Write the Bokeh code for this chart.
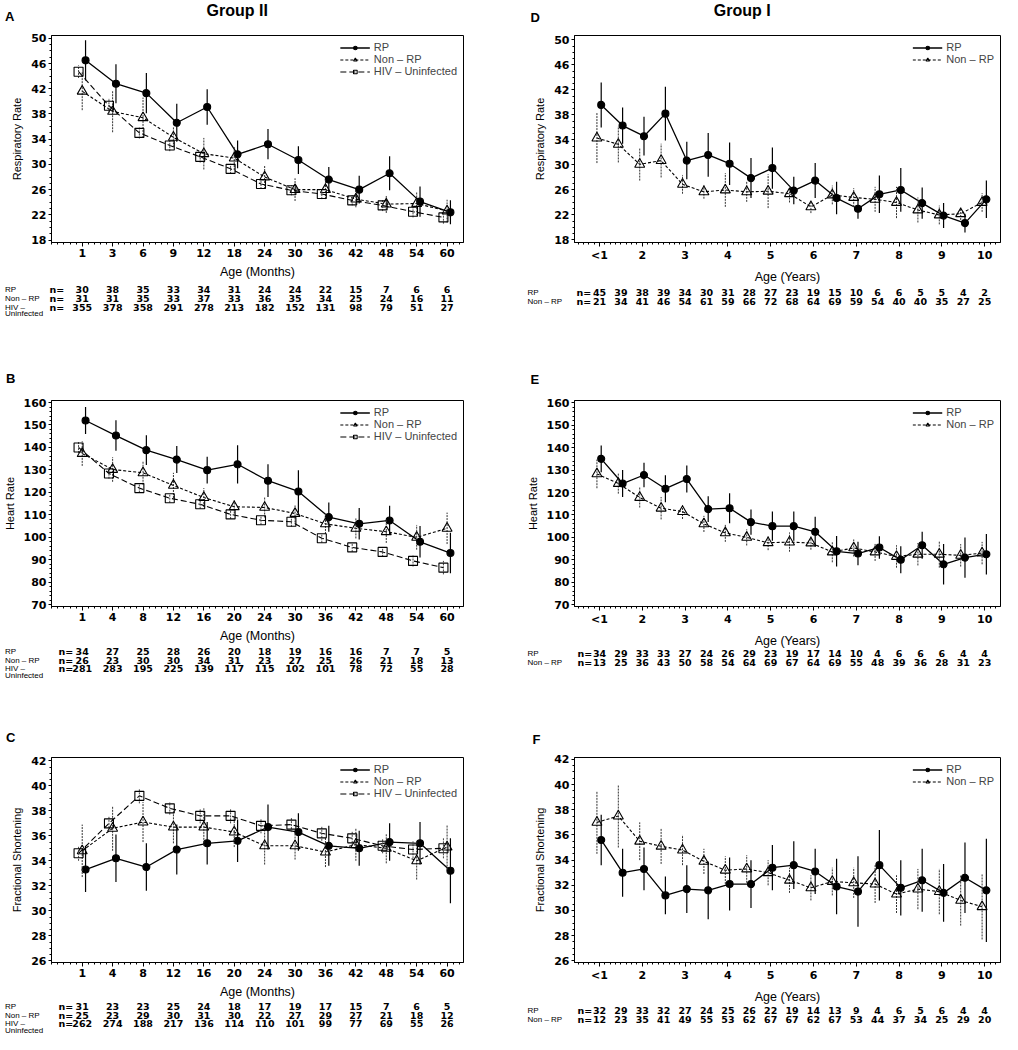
from bokeh.plotting import figure
from bokeh.models import Range1d, FixedTicker, Legend, LegendItem, ColumnDataSource
from bokeh.layouts import column, row
from bokeh.embed import file_html
from bokeh.resources import INLINE
from bokeh.core.properties import value

SANS = "Liberation Sans"
WIDE = "DejaVu Sans"

# ---------------- categories / tick labels ----------------
month_idx = [0, 1, 2, 3, 4, 5, 6, 7, 8, 9, 10, 11, 12]
months_A = ["1", "3", "6", "9", "12", "18", "24", "30", "36", "42", "48", "54", "60"]
months_BC = ["1", "4", "8", "12", "16", "20", "24", "30", "36", "42", "48", "54", "60"]
years = [1, 1.5, 2, 2.5, 3, 3.5, 4, 4.5, 5, 5.5, 6, 6.5, 7, 7.5, 8, 8.5, 9, 9.5, 10]
year_ticks = [1, 2, 3, 4, 5, 6, 7, 8, 9, 10]
year_labels = ["<1", "2", "3", "4", "5", "6", "7", "8", "9", "10"]

# ---------------- Group II : A respiratory rate ----------------
rp_rr_A = [46.5, 42.8, 41.3, 36.6, 39.1, 31.6, 33.2, 30.7, 27.6, 26.0, 28.6, 24.1, 22.4]
rp_rr_A_se = [3.2, 3.1, 3.2, 3.0, 2.8, 2.2, 2.4, 2.2, 2.0, 2.2, 2.7, 2.4, 1.9]
nr_rr_A = [41.6, 38.4, 37.4, 34.3, 31.7, 31.0, 28.0, 26.0, 26.0, 24.5, 23.7, 23.8, 22.6]
nr_rr_A_se = [3.0, 3.3, 3.2, 1.6, 2.5, 1.9, 1.9, 1.8, 1.5, 1.3, 1.4, 1.9, 1.8]
hiv_rr_A = [44.7, 39.3, 35.0, 33.0, 31.2, 29.3, 26.9, 25.9, 25.3, 24.3, 23.5, 22.5, 21.6]
hiv_rr_A_se = [1.0, 1.2, 0.9, 0.9, 0.9, 0.8, 0.8, 0.8, 0.8, 0.8, 0.9, 0.9, 1.0]
n_rp_A = [30, 38, 35, 33, 34, 31, 24, 24, 22, 15, 7, 6, 6]
n_nr_A = [31, 31, 35, 33, 37, 33, 36, 35, 34, 25, 24, 16, 11]
n_hiv_A = [355, 378, 358, 291, 278, 213, 182, 152, 131, 98, 79, 51, 27]

# ---------------- Group II : B heart rate ----------------
rp_hr_B = [152.0, 145.3, 138.8, 134.6, 129.9, 132.5, 125.2, 120.4, 109.0, 106.0, 107.5, 98.0, 93.0]
rp_hr_B_se = [6.0, 6.8, 6.6, 6.0, 6.0, 8.5, 7.3, 9.5, 6.5, 7.0, 6.5, 7.0, 9.0]
nr_hr_B = [137.3, 130.2, 128.7, 123.1, 117.7, 113.6, 113.3, 110.6, 106.0, 104.0, 102.5, 100.0, 104.0]
nr_hr_B_se = [5.5, 5.5, 5.3, 5.6, 4.2, 3.0, 4.5, 4.0, 4.5, 4.5, 5.0, 5.5, 7.0]
hiv_hr_B = [140.0, 128.4, 121.9, 117.4, 114.7, 110.2, 107.6, 106.9, 99.6, 95.5, 93.5, 89.5, 86.5]
hiv_hr_B_se = [2.5, 2.3, 2.0, 2.0, 2.0, 2.0, 2.0, 2.2, 2.0, 2.0, 2.2, 2.5, 3.0]
n_rp_B = [34, 27, 25, 28, 26, 20, 18, 19, 16, 16, 7, 7, 5]
n_nr_B = [26, 23, 30, 30, 34, 31, 23, 27, 25, 26, 21, 18, 13]
n_hiv_B = [281, 283, 195, 225, 139, 117, 115, 102, 101, 78, 72, 55, 28]

# ---------------- Group II : C fractional shortening ----------------
rp_fs_C = [33.3, 34.2, 33.5, 34.9, 35.4, 35.6, 36.7, 36.3, 35.2, 35.0, 35.5, 35.4, 33.2]
rp_fs_C_se = [1.8, 1.9, 1.9, 2.0, 1.7, 1.7, 1.8, 1.5, 1.6, 1.4, 1.5, 1.7, 2.6]
nr_fs_C = [34.8, 36.6, 37.1, 36.7, 36.7, 36.3, 35.2, 35.2, 34.7, 35.3, 35.0, 34.0, 35.1]
nr_fs_C_se = [2.1, 1.8, 1.6, 1.3, 1.5, 1.2, 1.5, 1.1, 1.2, 1.3, 1.2, 1.5, 1.8]
hiv_fs_C = [34.6, 37.0, 39.2, 38.2, 37.6, 37.6, 36.8, 36.9, 36.2, 35.8, 35.2, 34.9, 35.0]
hiv_fs_C_se = [0.6, 0.6, 0.6, 0.5, 0.6, 0.6, 0.6, 0.6, 0.6, 0.6, 0.6, 0.7, 0.8]
n_rp_C = [31, 23, 23, 25, 24, 18, 17, 19, 17, 15, 7, 6, 5]
n_nr_C = [25, 23, 29, 30, 31, 30, 22, 27, 29, 27, 21, 18, 12]
n_hiv_C = [262, 274, 188, 217, 136, 114, 110, 101, 99, 77, 69, 55, 26]

# ---------------- Group I : D respiratory rate ----------------
rp_rr_D = [39.6, 36.3, 34.6, 38.2, 30.7, 31.6, 30.2, 27.9, 29.5, 25.9, 27.5, 24.7, 23.0, 25.3, 26.0, 23.9, 21.9, 20.7, 24.5]
rp_rr_D_se = [3.6, 2.9, 3.1, 4.3, 3.0, 3.5, 3.4, 3.2, 3.3, 2.2, 2.8, 2.6, 1.6, 3.0, 3.5, 2.5, 2.0, 1.5, 3.0]
nr_rr_D = [34.3, 33.3, 30.1, 30.7, 26.9, 25.7, 26.0, 25.7, 25.8, 25.4, 23.3, 25.2, 24.8, 24.5, 24.0, 22.8, 22.0, 22.2, 24.0]
nr_rr_D_se = [4.0, 2.9, 2.6, 2.7, 1.5, 1.1, 2.7, 1.6, 2.7, 1.4, 1.0, 1.5, 1.5, 2.0, 2.5, 2.0, 1.5, 1.0, 1.5]
n_rp_D = [45, 39, 38, 39, 34, 30, 31, 28, 27, 23, 19, 15, 10, 6, 6, 5, 5, 4, 2]
n_nr_D = [21, 34, 41, 46, 54, 61, 59, 66, 72, 68, 64, 69, 59, 54, 40, 40, 35, 27, 25]

# ---------------- Group I : E heart rate ----------------
rp_hr_E = [135.0, 124.0, 127.8, 121.7, 126.0, 112.6, 113.0, 106.8, 105.0, 105.0, 102.5, 93.8, 92.8, 95.5, 90.0, 96.5, 88.0, 91.0, 92.5]
rp_hr_E_se = [6.0, 6.0, 5.5, 6.0, 6.0, 5.7, 6.7, 5.6, 6.5, 6.5, 6.7, 6.8, 5.2, 5.0, 6.0, 6.0, 9.0, 9.0, 9.0]
nr_hr_E = [128.3, 124.0, 117.8, 113.0, 111.5, 106.0, 102.0, 100.0, 97.6, 97.9, 97.5, 93.5, 95.3, 93.5, 91.5, 92.5, 92.5, 92.0, 93.0]
nr_hr_E_se = [6.4, 4.5, 4.5, 5.0, 3.3, 3.6, 4.0, 3.6, 3.3, 4.3, 3.0, 4.6, 3.8, 4.0, 5.0, 5.0, 6.0, 5.0, 5.0]
n_rp_E = [34, 29, 33, 33, 27, 24, 26, 29, 23, 19, 17, 14, 10, 4, 6, 6, 6, 4, 4]
n_nr_E = [13, 25, 36, 43, 50, 58, 54, 64, 69, 67, 64, 69, 55, 48, 39, 36, 28, 31, 23]

# ---------------- Group I : F fractional shortening ----------------
rp_fs_F = [35.6, 33.0, 33.3, 31.2, 31.7, 31.6, 32.1, 32.1, 33.4, 33.6, 33.1, 31.9, 31.5, 33.6, 31.8, 32.4, 31.4, 32.6, 31.6]
rp_fs_F_se = [2.0, 1.9, 1.7, 1.5, 1.9, 2.3, 2.1, 1.9, 1.8, 1.9, 1.8, 2.2, 2.8, 2.8, 2.2, 2.5, 2.3, 2.8, 4.1]
nr_fs_F = [37.0, 37.5, 35.5, 35.1, 34.8, 33.9, 33.2, 33.3, 33.0, 32.4, 31.8, 32.3, 32.2, 32.1, 31.3, 31.7, 31.5, 30.8, 30.3]
nr_fs_F_se = [2.5, 2.5, 1.5, 1.4, 1.2, 1.0, 1.1, 1.1, 1.0, 1.0, 1.0, 1.1, 1.2, 1.5, 1.5, 1.6, 1.8, 2.0, 2.6]
n_rp_F = [32, 29, 33, 32, 27, 24, 25, 26, 22, 19, 14, 13, 9, 4, 6, 5, 6, 4, 4]
n_nr_F = [12, 23, 35, 41, 49, 55, 53, 62, 67, 67, 62, 67, 53, 44, 37, 34, 25, 29, 20]

# ---------------- styles ----------------
STY = {
    "RP": dict(marker="circle", size=7, fill="black", dash="solid", lw=1.3, edash="solid", ecol="black", ew=1.2, off2=0.11, off1=0.04),
    "Non – RP": dict(marker="triangle", size=10, fill=None, dash="3 2", lw=1.1, edash="2 1", ecol="#333333", ew=1.0, off2=0.0, off1=-0.06),
    "HIV – Uninfected": dict(marker="square", size=9, fill=None, dash="6 3", lw=1.1, edash="2 1", ecol="#444444", ew=1.0, off2=-0.12, off1=0.0),
}

rr_ticks = [18, 22, 26, 30, 34, 38, 42, 46, 50]
rr_minor = list(range(18, 51))
hr_ticks = [70, 80, 90, 100, 110, 120, 130, 140, 150, 160]
hr_minor = list(range(70, 161, 2))
fs_ticks = [26, 28, 30, 32, 34, 36, 38, 40, 42]
fs_minor = [26 + 0.5 * i for i in range(33)]
m_minor = [round(-1.0 + 0.2 * i, 2) for i in range(70)]
y_minor = [round(0.375 + 0.125 * i, 3) for i in range(82)]

LW, RW = 522, 480
LEFT_X0, RIGHT_X0 = 8, 530          # page x of each column's left edge


class Geo:
    """Page geometry of one panel figure (used to place annotation texts)."""
    def __init__(self, W, top, T, B, bottom, bl, br, xr, yr, col_x0):
        self.W, self.top, self.T, self.B, self.bottom = W, top, T, B, bottom
        self.bl, self.br, self.xr, self.yr, self.col_x0 = bl, br, xr, yr, col_x0
        self.H = bottom - top
        self.fw = W - bl - br
        self.kx = (xr[1] - xr[0]) / self.fw
        self.ky = (yr[1] - yr[0]) / (B - T)

    def x(self, page_x):
        return self.xr[0] + (page_x - self.col_x0 - self.bl) * self.kx

    def y(self, page_y):
        return self.yr[0] + (self.B - page_y) * self.ky


def ptext(p, xs, ys, s, size, font=SANS, style="normal", align="left"):
    p.text(x=xs, y=ys, text=s, text_font=value(font), text_font_style=style,
           text_font_size=size, text_align=align, text_baseline="middle",
           text_color="black", level="overlay")


def build_main(cfg, g):
    p = figure(width=g.W, height=g.H, x_range=Range1d(*g.xr), y_range=Range1d(*g.yr),
               output_backend="svg", toolbar_location=None, title=None,
               min_border_left=g.bl, min_border_right=g.br,
               min_border_top=g.T - g.top, min_border_bottom=g.bottom - g.B)
    p.grid.visible = False
    p.outline_line_color = "black"
    p.outline_line_width = 1
    p.background_fill_color = "white"
    p.border_fill_color = "white"

    items = []
    group2 = cfg["group"] == 2
    for name, ys, se in cfg["series"]:
        st = STY[name]
        off = st["off2"] if group2 else st["off1"]
        xs = [x + off for x in cfg["xs"]]
        src = ColumnDataSource(dict(x=xs, y=ys,
                                    lo=[a - b for a, b in zip(ys, se)],
                                    hi=[a + b for a, b in zip(ys, se)]))
        ln = p.line("x", "y", source=src, line_color="black", line_width=st["lw"], line_dash=st["dash"])
        p.segment(x0="x", y0="lo", x1="x", y1="hi", source=src, line_color=st["ecol"],
                  line_width=st["ew"], line_dash=st["edash"])
        sc = p.scatter("x", "y", source=src, marker=st["marker"], size=st["size"],
                       line_color="black", line_width=1.1, fill_color=st["fill"])
        items.append(LegendItem(label=name, renderers=[ln, sc]))

    leg = Legend(items=items, location="top_right", border_line_color=None,
                 background_fill_alpha=0, label_text_font=SANS, label_text_font_size="11px",
                 glyph_width=30, glyph_height=9, label_height=9, spacing=0, padding=2,
                 margin=6, label_standoff=4)
    p.add_layout(leg)

    p.xaxis.ticker = FixedTicker(ticks=cfg["xticks"], minor_ticks=cfg["xminor"])
    p.xaxis.major_label_overrides = {t: l for t, l in zip(cfg["xticks"], cfg["xlabels"])}
    p.yaxis.ticker = FixedTicker(ticks=cfg["yticks"], minor_ticks=cfg["yminor"])
    for ax in p.axis:
        ax.axis_line_color = "black"
        ax.axis_line_width = 1
        ax.major_tick_line_color = "black"
        ax.minor_tick_line_color = "black"
        ax.major_tick_in = 0
        ax.minor_tick_in = 0
        ax.minor_tick_out = 2
        ax.major_label_text_font = WIDE
        ax.major_label_text_font_style = "bold"
        ax.major_label_text_font_size = "11px"
        ax.major_label_text_color = "black"
        ax.axis_label_text_font = SANS
        ax.axis_label_text_font_style = "normal"
        ax.axis_label_text_color = "black"
    p.yaxis.major_tick_out = 3
    p.yaxis.major_label_standoff = 2
    p.yaxis.axis_label = cfg["ylabel"]
    p.yaxis.axis_label_text_font_size = "11px"
    p.yaxis.axis_label_standoff = 5
    p.xaxis.major_tick_out = 4
    p.xaxis.major_label_standoff = 2
    p.xaxis.axis_label = cfg["xlabel"]
    p.xaxis.axis_label_text_font_size = "12.5px"
    p.xaxis.axis_label_standoff = 5
    return p


def add_table(p, g, xs, rows, n_px, lab_px):
    """rows: (label lines, counts, page y)."""
    for lines, counts, py in rows:
        yy = g.y(py)
        ptext(p, xs, [yy] * len(counts), [str(c) for c in counts], "9.5px", WIDE, "bold", "center")
        ptext(p, [g.x(n_px)], [yy], ["n="], "9.5px", WIDE, "bold", "left")
        for j, ln in enumerate(lines):
            ptext(p, [g.x(lab_px)], [g.y(py + 6.5 * j)], [ln], "8px", SANS, "normal", "left")


def add_letter(p, g, s, px, py):
    ptext(p, [g.x(px)], [g.y(py)], [s], "13px", SANS, "bold", "left")


XR2 = (-1.01, 12.54)
XR1 = (0.416, 10.37)

cfgA = dict(group=2, xs=month_idx, xticks=month_idx, xlabels=months_A, xminor=m_minor,
            yticks=rr_ticks, yminor=rr_minor, ylabel="Respiratory Rate", xlabel="Age (Months)",
            series=[("RP", rp_rr_A, rp_rr_A_se), ("Non – RP", nr_rr_A, nr_rr_A_se),
                    ("HIV – Uninfected", hiv_rr_A, hiv_rr_A_se)])
cfgB = dict(group=2, xs=month_idx, xticks=month_idx, xlabels=months_BC, xminor=m_minor,
            yticks=hr_ticks, yminor=hr_minor, ylabel="Heart Rate", xlabel="Age (Months)",
            series=[("RP", rp_hr_B, rp_hr_B_se), ("Non – RP", nr_hr_B, nr_hr_B_se),
                    ("HIV – Uninfected", hiv_hr_B, hiv_hr_B_se)])
cfgC = dict(group=2, xs=month_idx, xticks=month_idx, xlabels=months_BC, xminor=m_minor,
            yticks=fs_ticks, yminor=fs_minor, ylabel="Fractional Shortening", xlabel="Age (Months)",
            series=[("RP", rp_fs_C, rp_fs_C_se), ("Non – RP", nr_fs_C, nr_fs_C_se),
                    ("HIV – Uninfected", hiv_fs_C, hiv_fs_C_se)])
cfgD = dict(group=1, xs=years, xticks=year_ticks, xlabels=year_labels, xminor=y_minor,
            yticks=rr_ticks, yminor=rr_minor, ylabel="Respiratory Rate", xlabel="Age (Years)",
            series=[("RP", rp_rr_D, rp_rr_D_se), ("Non – RP", nr_rr_D, nr_rr_D_se)])
cfgE = dict(group=1, xs=years, xticks=year_ticks, xlabels=year_labels, xminor=y_minor,
            yticks=hr_ticks, yminor=hr_minor, ylabel="Heart Rate", xlabel="Age (Years)",
            series=[("RP", rp_hr_E, rp_hr_E_se), ("Non – RP", nr_hr_E, nr_hr_E_se)])
cfgF = dict(group=1, xs=years, xticks=year_ticks, xlabels=year_labels, xminor=y_minor,
            yticks=fs_ticks, yminor=fs_minor, ylabel="Fractional Shortening", xlabel="Age (Years)",
            series=[("RP", rp_fs_F, rp_fs_F_se), ("Non – RP", nr_fs_F, nr_fs_F_se)])

# Row geometry (page px): fig top, frame top, frame bottom, fig bottom.
# Side-by-side panels share their frame rows (Bokeh aligns them).
R1 = (8, 43, 250, 370)
R2 = (370, 408, 614, 730)
R3 = (730, 765, 970, 1042)

# ---------------- left column (Group II) ----------------
gA = Geo(LW, *R1, 47, 59, XR2, (17.62, 50.44), LEFT_X0)
gB = Geo(LW, *R2, 47, 59, XR2, (69.2, 160.9), LEFT_X0)
gC = Geo(LW, *R3, 47, 59, XR2, (25.86, 42.27), LEFT_X0)

figA = build_main(cfgA, gA)
ptext(figA, [gA.x(242.5)], [gA.y(18)], ["Group II"], "16px", SANS, "bold", "center")
add_letter(figA, gA, "A", 8, 24)
add_table(figA, gA, month_idx, [(["RP"], n_rp_A, 297), (["Non – RP"], n_nr_A, 305.7),
                                (["HIV –", "Uninfected"], n_hiv_A, 314.7)], 53, 8)

figB = build_main(cfgB, gB)
add_letter(figB, gB, "B", 9, 386)
add_table(figB, gB, month_idx, [(["RP"], n_rp_B, 659), (["Non – RP"], n_nr_B, 667.5),
                                (["HIV –", "Uninfected"], n_hiv_B, 676)], 62, 8)

figC = build_main(cfgC, gC)
add_letter(figC, gC, "C", 9, 745)
add_table(figC, gC, month_idx, [(["RP"], n_rp_C, 1014), (["Non – RP"], n_nr_C, 1022.5),
                                (["HIV –", "Uninfected"], n_hiv_C, 1031)], 62, 8)

# ---------------- right column (Group I) ----------------
gD = Geo(RW, *R1, 52, 2, XR1, (17.6, 50.7), RIGHT_X0)
gE = Geo(RW, *R2, 52, 2, XR1, (69.2, 161.0), RIGHT_X0)
gF = Geo(RW, *R3, 52, 2, XR1, (25.87, 42.15), RIGHT_X0)

figD = build_main(cfgD, gD)
ptext(figD, [gD.x(749.7)], [gD.y(18)], ["Group I"], "16px", SANS, "bold", "center")
add_letter(figD, gD, "D", 538, 25)
add_table(figD, gD, years, [(["RP"], n_rp_D, 300), (["Non – RP"], n_nr_D, 309)], 584, 535)

figE = build_main(cfgE, gE)
add_letter(figE, gE, "E", 538, 387)
add_table(figE, gE, years, [(["RP"], n_rp_E, 661), (["Non – RP"], n_nr_E, 669.5)], 585, 535)

figF = build_main(cfgF, gF)
add_letter(figF, gF, "F", 540, 747)
add_table(figF, gF, years, [(["RP"], n_rp_F, 1018), (["Non – RP"], n_nr_F, 1027)], 585, 535)

left = column(figA, figB, figC, spacing=0)
right = column(figD, figE, figF, spacing=0)
layout = row(left, right, spacing=0)

open("out.html", "w").write(file_html(layout, INLINE, title="Group II / Group I vital signs"))
